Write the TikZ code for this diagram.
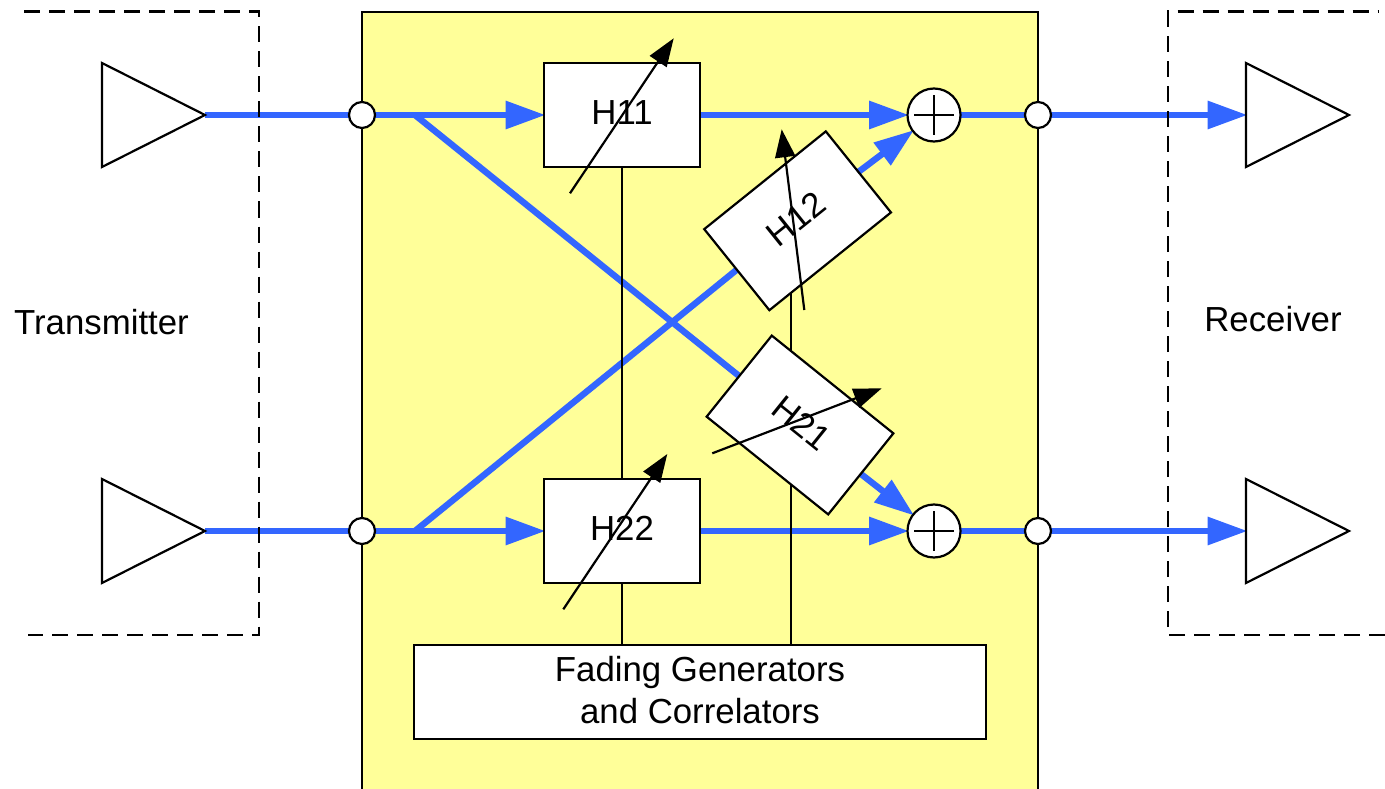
\documentclass[tikz,border=0pt]{standalone}
\usepackage{fontspec}
\setmainfont{Liberation Sans}
\usepackage{xcolor}
\usetikzlibrary{arrows.meta,backgrounds,shapes.geometric}
\definecolor{sigblue}{HTML}{3366FF}
\definecolor{boardyel}{HTML}{FFFF99}
\tikzset{
  sig/.style={-{Triangle[length=40pt,width=27pt]},line width=6.4pt,sigblue,shorten >=-1.5pt},
  feed/.style={line width=6.4pt,sigblue},
  wire/.style={line width=2.2pt,black},
  adj/.style={-{Triangle[length=28pt,width=20pt]},line width=2.2pt,black},
  frame/.style={line width=2.2pt,black,dash pattern=on 16pt off 9pt},
  gain/.style={draw,line width=2.2pt,fill=white,minimum width=156pt,minimum height=104pt,inner sep=0pt,outer sep=0pt,text depth=5pt,font=\fontsize{34.8}{41.5}\selectfont},
  port/.style={circle,draw,line width=2.2pt,fill=white,minimum size=26pt,inner sep=0pt,outer sep=0pt},
  adder/.style={circle,draw,line width=2.2pt,fill=white,minimum size=53pt,inner sep=0pt,outer sep=0pt},
  amp/.style={isosceles triangle,isosceles triangle stretches,draw,line width=2.2pt,fill=white,minimum width=104pt,minimum height=103pt,inner sep=0pt,outer sep=0pt,anchor=lower side},
  lbl/.style={align=center,inner sep=0pt,font=\fontsize{34.8}{41.5}\selectfont}
}
\begin{document}
\begin{tikzpicture}[x=1pt,y=-1pt]
\useasboundingbox (0,0) rectangle (1385,789);
\begin{scope}[on background layer]
\fill[boardyel] (362,12) rectangle (1038,789);
\draw[wire] (362,789)--(362,12)--(1038,12)--(1038,789);
\end{scope}
\node[amp] (txa) at (102,115) {};
\node[amp] (txb) at (102,531) {};
\node[amp] (rxa) at (1246,115) {};
\node[amp] (rxb) at (1246,531) {};
\node[port] (porta) at (362,115) {};
\node[port] (portb) at (362,531) {};
\node[port] (portc) at (1038,115) {};
\node[port] (portd) at (1038,531) {};
\node[gain] (h11) at (622,115) {H11};
\node[gain] (h22) at (622,531) {H22};
\node[gain,rotate=38.8] (h12) at (797.6,220.8) {H12};
\node[gain,rotate=-38.8] (h21) at (800,425) {H21};
\node[adder] (suma) at (934,115) {};
\node[adder] (sumb) at (934,531) {};
\node[draw,line width=2.2pt,fill=white,minimum width=572pt,minimum height=94pt,lbl,text depth=4pt] (fading) at (700,692) {Fading Generators\\and Correlators};
\node[lbl] (txlabel) at (101.5,322) {Transmitter};
\node[lbl] (rxlabel) at (1273,319) {Receiver};
\coordinate (splita) at (415,115);
\coordinate (splitb) at (415,531);
\coordinate (tapb) at (791,645);
\foreach \s in {suma,sumb} {
  \draw[wire] ([xshift=-20pt]\s.center)--([xshift=20pt]\s.center);
  \draw[wire] ([yshift=-20pt]\s.center)--([yshift=20pt]\s.center);
}
\begin{scope}[on background layer]
\draw[feed] (txa.apex)--(porta);
\draw[feed] (txb.apex)--(portb);
\draw[sig] (porta)--(h11.west);
\draw[sig] (portb)--(h22.west);
\draw[feed] (splita)--(h21.west);
\draw[feed] (splitb)--(h12.west);
\draw[sig,line cap=round] (h11.east)--(suma.west);
\draw[sig] (h22.east)--(sumb.west);
\draw[sig] (h12.east)--(suma);
\draw[sig] (h21.east)--(sumb);
\draw[feed] (suma)--(portc);
\draw[feed] (sumb)--(portd);
\draw[sig] (portc)--(rxa.lower side);
\draw[sig] (portd)--(rxb.lower side);
\draw[wire] (h11.south)--(h22.north);
\draw[wire] (h22.south)--(h22.south|-fading.north);
\draw[wire] (tapb|-h12.center)--(tapb);
\draw[frame] (24,11.5)--(259,11.5)--(259,635)--(28,635);
\draw[frame] (1385,635)--(1168,635)--(1168,11.5)--(1378,11.5);
\end{scope}
\coordinate (ha) at (570,193.3);
\coordinate (hb) at (563.3,609.3);
\coordinate (hc) at (804.3,310);
\coordinate (hd) at (712.3,453.3);
\coordinate (ta) at (673.7,38.3);
\coordinate (tb) at (667.3,454);
\coordinate (tc) at (781.7,129.3);
\coordinate (td) at (881.7,388.3);
\draw[adj] (ha)--(ta);
\draw[adj] (hb)--(tb);
\draw[adj] (hc)--(tc);
\draw[adj] (hd)--(td);
\end{tikzpicture}
\end{document}
